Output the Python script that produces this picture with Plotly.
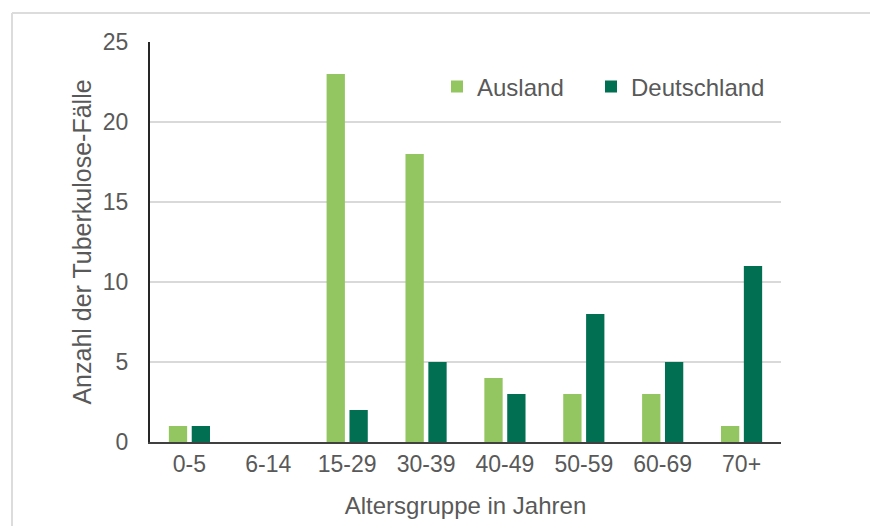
import plotly.graph_objects as go

# Tuberculosis cases by age group, split by country of birth
age_groups = ["0-5", "6-14", "15-29", "30-39", "40-49", "50-59", "60-69", "70+"]
ausland = [1, 0, 23, 18, 4, 3, 3, 1]
deutschland = [1, 0, 2, 5, 3, 8, 5, 11]
y_ticks = [0, 5, 10, 15, 20, 25]

LIGHT = "#93C560"
DARK = "#006F52"
TEXT = "#595959"
FONT = "Liberation Sans, Arial, sans-serif"

W, H = 872, 527
L, R, T, B = 150, 91, 42, 85
pw, ph = W - L - R, H - T - B


def px_x(x):
    return (x - L) / pw


def px_y(y):
    return (H - B - y) / ph


fig = go.Figure()
fig.add_trace(go.Bar(name="Ausland", x=age_groups, y=ausland, marker_color=LIGHT,
                     marker_line_width=0, legend="legend"))
fig.add_trace(go.Bar(name="Deutschland", x=age_groups, y=deutschland, marker_color=DARK,
                     marker_line_width=0, legend="legend2"))

# light outer frame (left and top edges)
frame = dict(type="line", xref="paper", yref="paper",
             line=dict(color="#DCDCDC", width=2), layer="below")
fig.add_shape(**frame, x0=px_x(12), x1=px_x(12), y0=px_y(13), y1=px_y(526))
fig.add_shape(**frame, x0=px_x(12), x1=px_x(870), y0=px_y(13), y1=px_y(13))

legend_style = dict(orientation="h", xanchor="left", yanchor="middle",
                    font=dict(size=24, color=TEXT), bgcolor="rgba(0,0,0,0)", itemwidth=30)

fig.update_layout(
    width=W, height=H,
    margin=dict(l=L, r=R, t=T, b=B),
    paper_bgcolor="white", plot_bgcolor="white",
    barmode="group", bargap=0.42, bargroupgap=0.2,
    font=dict(family=FONT, color=TEXT, size=23),
    showlegend=True,
    legend=dict(x=px_x(437), y=px_y(87), **legend_style),
    legend2=dict(x=px_x(591), y=px_y(87), **legend_style),
    xaxis=dict(
        showline=True, linecolor="#404040", linewidth=2,
        ticks="", tickfont=dict(size=23, color=TEXT),
        title=dict(text="Altersgruppe in Jahren", font=dict(size=24, color=TEXT), standoff=22),
    ),
    yaxis=dict(
        range=[0, 25], tickvals=y_ticks, showline=True, linecolor="#262626", linewidth=2,
        showgrid=True, gridcolor="#D9D9D9", gridwidth=1.5, zeroline=False,
        ticks="", ticklabelstandoff=15, tickfont=dict(size=23, color=TEXT),
        title=dict(text="Anzahl der Tuberkulose-Fälle", font=dict(size=25, color=TEXT), standoff=4),
    ),
)

fig.write_html("out.html")
